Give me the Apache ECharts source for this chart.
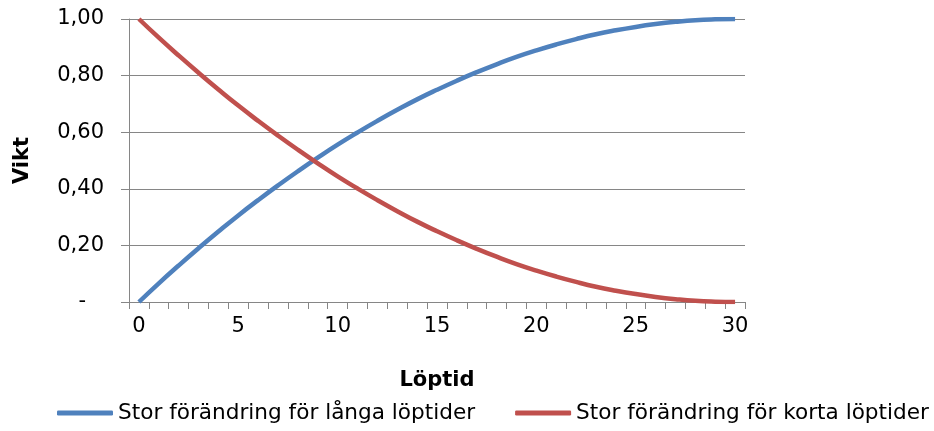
<!DOCTYPE html>
<html><head><meta charset="utf-8">
<script src="https://cdn.jsdelivr.net/npm/echarts@6/dist/echarts.min.js"></script>
<style>html,body{margin:0;padding:0;background:#fff}#c{width:934px;height:431px}</style>
</head><body><div id="c"></div>
<script>
const categories = ['0','1','2','3','4','5','6','7','8','9','10','11','12','13','14','15','16','17','18','19','20','21','22','23','24','25','26','27','28','29','30'];
const longName = 'Stor förändring för långa löptider';
const shortName = 'Stor förändring för korta löptider';
const longValues = [0.000,0.066,0.129,0.190,0.249,0.306,0.360,0.412,0.462,0.510,0.556,0.599,0.640,0.679,0.716,0.750,0.782,0.812,0.840,0.866,0.889,0.910,0.929,0.946,0.960,0.972,0.982,0.990,0.996,0.999,1.000];
const shortValues = [1.000,0.934,0.871,0.810,0.751,0.694,0.640,0.588,0.538,0.490,0.444,0.401,0.360,0.321,0.284,0.250,0.218,0.188,0.160,0.134,0.111,0.090,0.071,0.054,0.040,0.028,0.018,0.010,0.004,0.001,0.000];
const yTicks = [0, 0.2, 0.4, 0.6, 0.8, 1.0];

const FONT = 'DejaVu Sans';
const FS = 21;
const chart = echarts.init(document.getElementById('c'), null, {renderer: 'canvas'});
chart.setOption({
  animation: false,
  textStyle: {fontFamily: FONT},
  grid: {left: 129, right: 189, top: 19, bottom: 129, containLabel: false, outerBoundsMode: 'none'},
  legend: {
    left: 57, top: 402, itemGap: 40, itemWidth: 56, itemHeight: 5, padding: 0,
    icon: 'roundRect',
    textStyle: {fontFamily: FONT, fontSize: 21.6, color: '#000'},
    data: [longName, shortName]
  },
  xAxis: {
    type: 'category', data: categories, boundaryGap: true,
    name: 'Löptid', nameLocation: 'middle', nameGap: 68,
    nameTextStyle: {fontFamily: FONT, fontSize: FS, fontWeight: 'bold', color: '#000'},
    axisLine: {lineStyle: {color: '#868686', width: 1}},
    axisTick: {show: true, interval: 0, length: 7, lineStyle: {color: '#868686'}},
    axisLabel: {interval: 4, margin: 14, fontSize: FS, color: '#000', fontFamily: FONT},
    splitLine: {show: false}
  },
  yAxis: {
    type: 'value', min: 0, max: 1, interval: 0.2,
    name: 'Vikt', nameLocation: 'middle', nameGap: 96, nameRotate: 90,
    nameTextStyle: {fontFamily: FONT, fontSize: FS, fontWeight: 'bold', color: '#000'},
    axisLine: {show: true, lineStyle: {color: '#868686', width: 1}},
    axisTick: {show: true, length: 8, inside: false, lineStyle: {color: '#868686'}},
    axisLabel: {
      margin: 25, fontSize: FS, color: '#000', fontFamily: FONT,
      formatter: v => Math.abs(v) < 1e-9 ? '{d|-}' : v.toFixed(2).replace('.', ','),
      rich: {d: {fontSize: FS, fontFamily: FONT, color: '#000', padding: [0, 18, 0, 0]}}
    },
    splitLine: {show: true, lineStyle: {color: '#868686', width: 1}}
  },
  series: [
    {name: longName, type: 'line', data: longValues, smooth: true, showSymbol: false, symbol: 'none',
     lineStyle: {color: '#4F81BD', width: 4.5}, itemStyle: {color: '#4F81BD'}},
    {name: shortName, type: 'line', data: shortValues, smooth: true, showSymbol: false, symbol: 'none',
     lineStyle: {color: '#C0504D', width: 4.5}, itemStyle: {color: '#C0504D'}}
  ]
});
</script></body></html>
